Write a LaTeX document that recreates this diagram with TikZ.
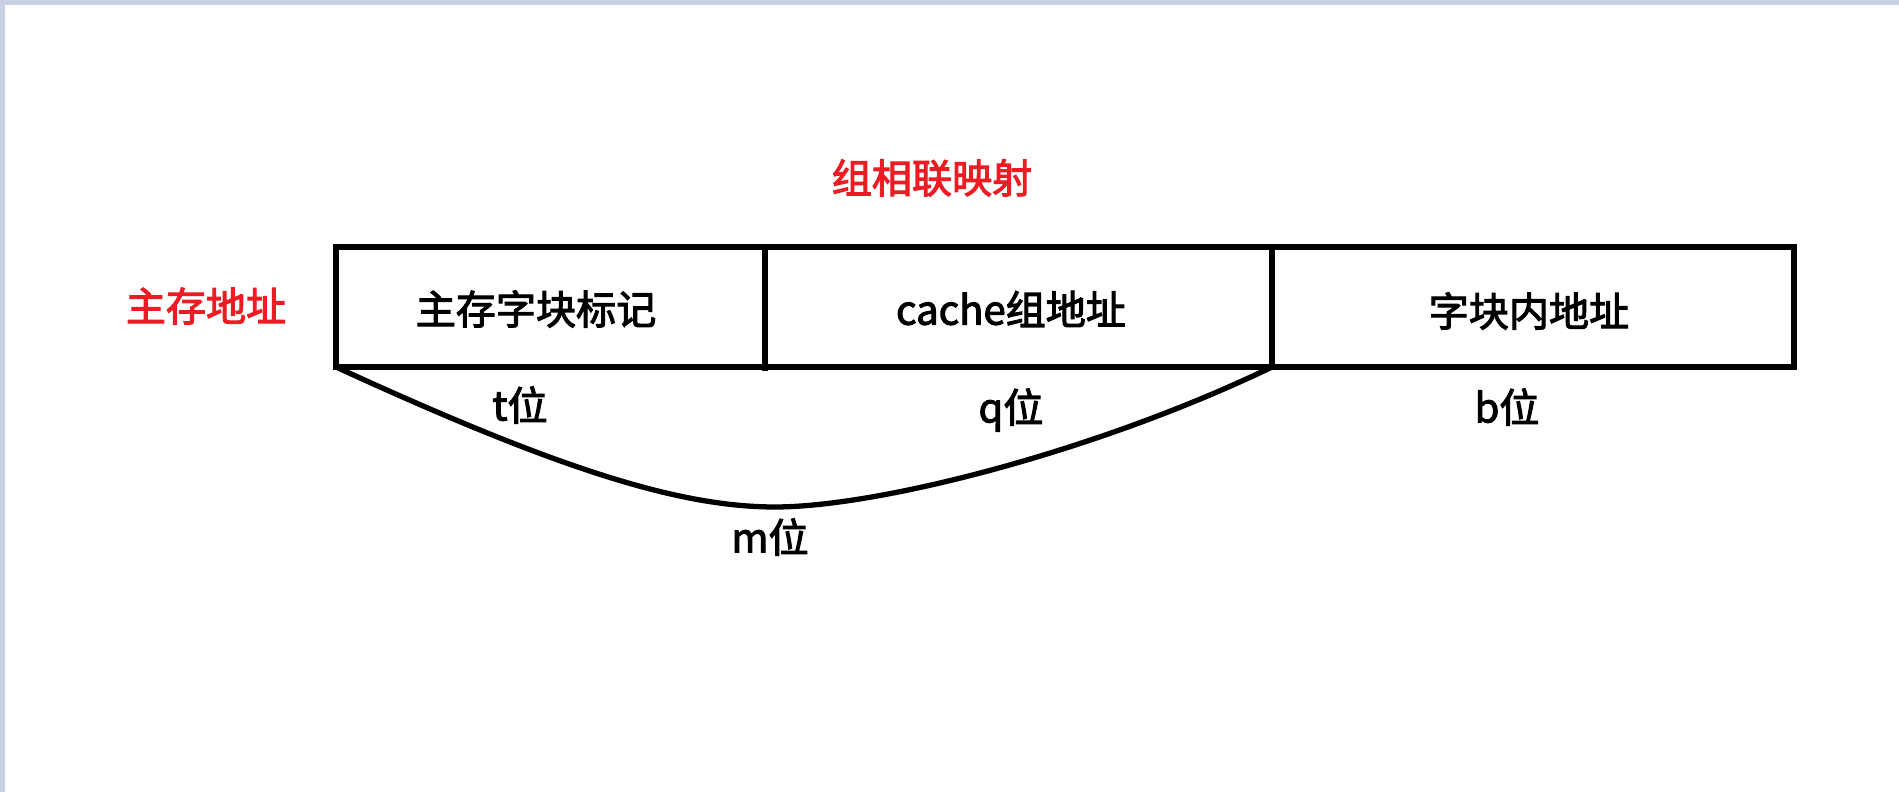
\documentclass[tikz,border=0pt]{standalone}
\usepackage{fontspec}
\usepackage{tikz}
\newfontfamily\cjk{Noto Sans CJK SC}[FakeBold=2.6]
\definecolor{paintred}{RGB}{237,28,36}
\definecolor{frameblue}{RGB}{200,209,225}

\begin{document}
\begin{tikzpicture}[x=0.01cm,y=-0.01cm,
  field/.style={font=\cjk\fontsize{11.4}{13}\selectfont,inner sep=0pt},
  caption/.style={font=\cjk\fontsize{11.4}{13}\selectfont,text=paintred,inner sep=0pt},
  wall/.style={line width=1.5pt}]

\useasboundingbox (0,0) rectangle (1899,792);
\fill[white] (0,0) rectangle (1899,792);
\fill[frameblue] (0,0) rectangle (1899,5);
\fill[frameblue] (0,0) rectangle (5,792);

\node[caption] (title) at (932,178) {组相联映射};
\node[caption] (addr) at (206,306) {主存地址};

\coordinate (bl) at (336,367);
\coordinate (cut) at (1272,367);
\coordinate (low) at (775,507);
\draw[wall] (336,247) rectangle (1794,367);
\draw[wall] (765,247) -- (765,371);
\draw[wall] (1272,247) -- (cut);

\node[field] (tag) at (536,309) {主存字块标记};
\node[field] (set) at (1011,309) {cache组地址};
\node[field] (off) at (1529,311) {字块内地址};

\draw[wall] (bl) .. controls (560,470) and (680,507) .. (low)
  .. controls (880,507) and (1100,450) .. (cut);

\node[field] (tbits) at (520,405) {t位};
\node[field] (qbits) at (1011,410) {q位};
\node[field] (bbits) at (1507,407) {b位};
\node[field] (mbits) at (770,537) {m位};
\end{tikzpicture}
\end{document}
